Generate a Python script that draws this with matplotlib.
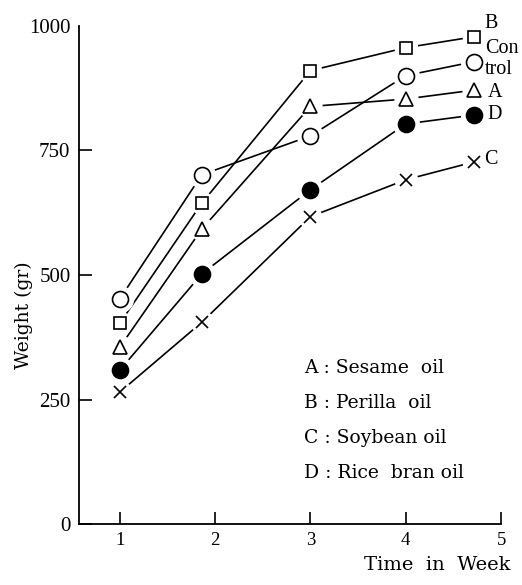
import matplotlib
matplotlib.use("Agg")
import matplotlib.pyplot as plt

plt.rcParams['font.family'] = ['Liberation Serif', 'Noto Sans CJK JP']

# week positions
weeks = [1, 1.86, 3, 4, 4.72]
control = [452, 701, 779, 900, 928]
oil_a = [355, 592, 838, 853, 871]
oil_b = [403, 644, 910, 956, 978]
oil_c = [265, 405, 617, 691, 727]
oil_d = [309, 502, 671, 803, 821]

legend_lines = ['A : Sesame  oil', 'B : Perilla  oil', 'C : Soybean oil', 'D : Rice  bran oil']

fig = plt.figure(figsize=(5.22, 5.85), dpi=100)
ax = fig.add_axes([0.151, 0.104, 0.809, 0.852])

series = [
    (oil_b, 's', 9, 'white'),
    (control, 'o', 11.5, 'white'),
    (oil_a, '^', 9.5, 'white'),
    (oil_d, 'o', 11.5, 'black'),
    (oil_c, 'x', 9, 'black'),
]
for vals, m, ms, fc in series:
    ax.plot(weeks, vals, '-', color='black', lw=1.2, zorder=1)
    # white halo so the lines stop short of the marks
    ax.plot(weeks, vals, ls='none', marker='o', ms=ms + 7,
            mfc='white', mec='white', zorder=2)
    ax.plot(weeks, vals, ls='none', marker=m, ms=ms, mfc=fc, mec='black',
            mew=1.2, zorder=3)

ax.set_xlim(0.57, 5.0)
ax.set_ylim(0, 1000)
ax.spines['top'].set_visible(False)
ax.spines['right'].set_visible(False)
ax.spines['left'].set_linewidth(1.3)
ax.spines['bottom'].set_linewidth(1.3)

ax.set_xticks([1, 2, 3, 4, 5])
ax.set_yticks([0, 250, 500, 750, 1000])
ax.tick_params(axis='both', direction='in', length=9, width=1.2)
ax.tick_params(axis='x', labelsize=13.5, pad=6)
ax.tick_params(axis='y', labelsize=15, pad=6)
ax.yaxis.get_major_ticks()[-1].tick1line.set_visible(False)

# labels at the line ends
ax.text(4.83, 1004, 'B', fontsize=14.5, va='center', clip_on=False)
ax.text(4.83, 955, 'Con', fontsize=14.5, va='center', clip_on=False)
ax.text(4.83, 912, 'trol', fontsize=14.5, va='center', clip_on=False)
ax.text(4.86, 867, 'A', fontsize=14.5, va='center', clip_on=False)
ax.text(4.86, 821, 'D', fontsize=14.5, va='center', clip_on=False)
ax.text(4.82, 731, 'C', fontsize=14.5, va='center', clip_on=False)

for i, s in enumerate(legend_lines):
    ax.text(2.93, 313 - i * 70, s, fontsize=13.5, va='center', family='DejaVu Serif')

fig.text(0.046, 0.462, 'Weight (gr)', rotation=90, fontsize=13.5, ha='center',
         va='center', family='DejaVu Serif')
fig.text(0.837, 0.034, 'Time  in  Week', fontsize=14, ha='center', va='center',
         family='DejaVu Serif')

fig.savefig('out.png', dpi=100)
